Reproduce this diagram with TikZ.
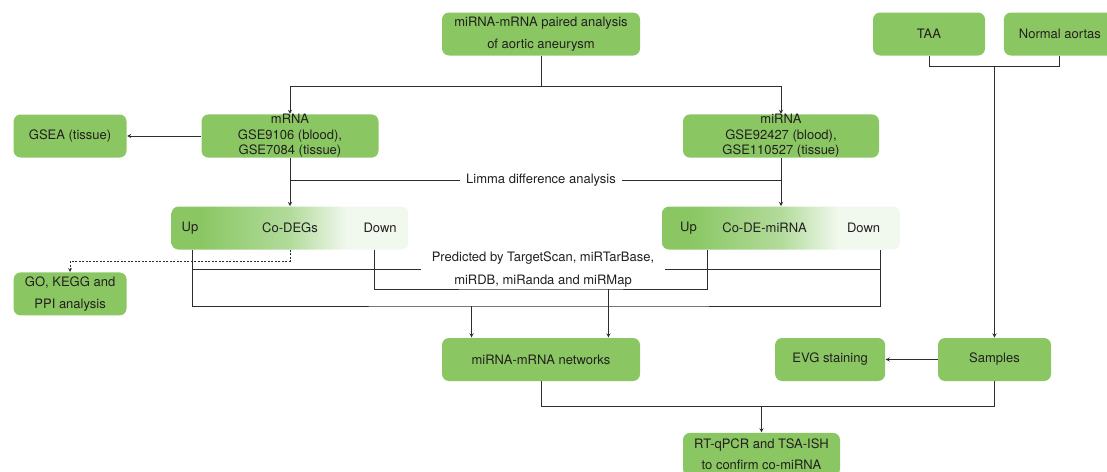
\documentclass[tikz,border=0pt]{standalone}
\usepackage{fontspec}
\setmainfont{TeX Gyre Heros}
\usetikzlibrary{arrows,positioning}

\definecolor{boxgreen}{RGB}{138,199,99}
\definecolor{midgreen}{RGB}{178,219,155}
\definecolor{fadegreen}{RGB}{241,248,238}
\definecolor{linegray}{RGB}{45,45,45}
\definecolor{textgray}{RGB}{35,31,32}
\pgfdeclarehorizontalshading{greenfade}{100bp}{color(0bp)=(boxgreen); color(31bp)=(boxgreen); color(50bp)=(midgreen); color(62bp)=(fadegreen); color(100bp)=(fadegreen)}

\begin{document}
\begin{tikzpicture}[x=1pt, y=1pt, >=stealth, line width=0.9pt]

    % Define block styles
    \tikzstyle{block} = [fill=boxgreen, rounded corners=7pt, minimum height=43pt, align=center, text=textgray, font=\fontsize{13}{21.5}\selectfont, inner sep=2pt]
    \tikzstyle{stacked} = [font=\fontsize{13}{15.5}\selectfont, inner ysep=0pt]
    \tikzstyle{fadeblock} = [block, fill=none, shade, shading=greenfade]
    \tikzstyle{note} = [align=center, text=textgray, font=\fontsize{13}{23}\selectfont]
    \tikzstyle{wire} = [draw=linegray]

    \useasboundingbox (0,0) rectangle (1107,-471);

    % Top row
    \node[block, minimum width=198pt] (paired) at (541,-34) {miRNA-mRNA paired analysis\\of aortic aneurysm};
    \node[block, minimum width=112pt] (taa) at (929,-34) {TAA};
    \node[block, minimum width=112pt, right=18pt of taa] (normal) {Normal aortas};

    % Data sets
    \node[block, stacked, minimum width=177pt, below=58pt of paired, xshift=-251pt] (mrna) {mRNA\\GSE9106 (blood),\\GSE7084 (tissue)};
    \node[block, stacked, minimum width=196pt, below=58pt of paired, xshift=240pt] (mirna) {miRNA\\GSE92427 (blood),\\GSE110527 (tissue)};
    \node[block, minimum width=113pt, left=74pt of mrna] (gsea) {GSEA (tissue)};
    \node[note, inner xsep=6pt] (limma) at (541,-180) {Limma difference analysis};

    % Co-expressed sets
    \node[fadeblock, minimum width=237pt, below=48pt of mrna] (codegs) {};
    \node[note] (degsup) at ([xshift=19pt]codegs.west) {Up};
    \node[note] (degsname) at (codegs.center) {Co-DEGs};
    \node[note] (degsdown) at ([xshift=209pt]codegs.west) {Down};

    \node[fadeblock, minimum width=238pt, below=48pt of mirna] (codemir) {};
    \node[note] (mirup) at ([xshift=27pt]codemir.west) {Up};
    \node[note] (mirname) at ([xshift=103pt]codemir.west) {Co-DE-miRNA};
    \node[note] (mirdown) at ([xshift=202pt]codemir.west) {Down};

    \node[note, inner xsep=10.5pt] (pred) at (543,-269.5) {Predicted by TargetScan, miRTarBase,\\miRDB, miRanda and miRMap};
    \node[block, minimum width=113pt, below=114pt of gsea] (go) {GO, KEGG and\\PPI analysis};

    % Bottom rows
    \node[block, minimum width=198pt] (net) at (541,-359.5) {miRNA-mRNA networks};
    \node[block, minimum width=113pt] (samples) at (994.5,-359.5) {Samples};
    \node[block, minimum width=110pt, left=52pt of samples] (evg) {EVG staining};
    \node[block, minimum width=157pt, below=51pt of net, xshift=220.5pt] (rt) {RT-qPCR and TSA-ISH\\to confirm co-miRNA};

    % Connectors
    \coordinate (pairedsplit) at ([yshift=-30pt]paired.south);
    \draw[wire] (paired.south) -- (pairedsplit);
    \draw[wire, ->] (pairedsplit) -| (mrna.north);
    \draw[wire, ->] (pairedsplit) -| (mirna.north);
    \draw[wire, ->] (mrna) -- (gsea);
    \draw[wire, ->] (mrna) -- (codegs);
    \draw[wire, ->] (mirna) -- (codemir);
    \draw[wire] (mrna.south |- limma) -- (limma);
    \draw[wire] (limma) -- (mirna.south |- limma);

    % Target prediction links
    \coordinate (degupend) at ([xshift=21pt]codegs.south west);
    \coordinate (degdownend) at ([xshift=203pt]codegs.south west);
    \coordinate (mirupend) at ([xshift=46pt]codemir.south west);
    \coordinate (mirdownend) at ([xshift=219pt]codemir.south west);
    \coordinate (lowbus) at (541,-306);
    \coordinate (midbus) at (541,-289);
    \draw[wire] (degupend) |- (pred);
    \draw[wire] (pred) -| (mirdownend);
    \draw[wire] (degupend) |- (lowbus) -| (mirdownend);
    \draw[wire] (degdownend) |- (midbus) -| (mirupend);
    \coordinate (netinA) at ([xshift=30pt]net.north west);
    \coordinate (netinB) at ([xshift=-32pt]net.north east);
    \draw[wire, ->] (netinA |- lowbus) -- (netinA);
    \draw[wire, ->] (netinB |- midbus) -- (netinB);

    % Enrichment branch
    \draw[wire, line width=0.7pt, dash pattern=on 2pt off 1.5pt, ->] (codegs.south) -- ++(0,-11) -| (go.north);

    % Tissue samples
    \coordinate (aortabus) at ([yshift=-10pt]taa.south);
    \draw[wire] (taa.south) -- (aortabus) -| (normal.south);
    \draw[wire, ->] (aortabus -| samples.north) -- (samples.north);
    \draw[wire, ->] (samples) -- (evg);

    % Validation
    \coordinate (rtbus) at ([yshift=26pt]rt.north);
    \draw[wire] (net.south) |- (rtbus) -| (samples.south);
    \draw[wire, ->] (rtbus) -- (rt.north);

\end{tikzpicture}
\end{document}
